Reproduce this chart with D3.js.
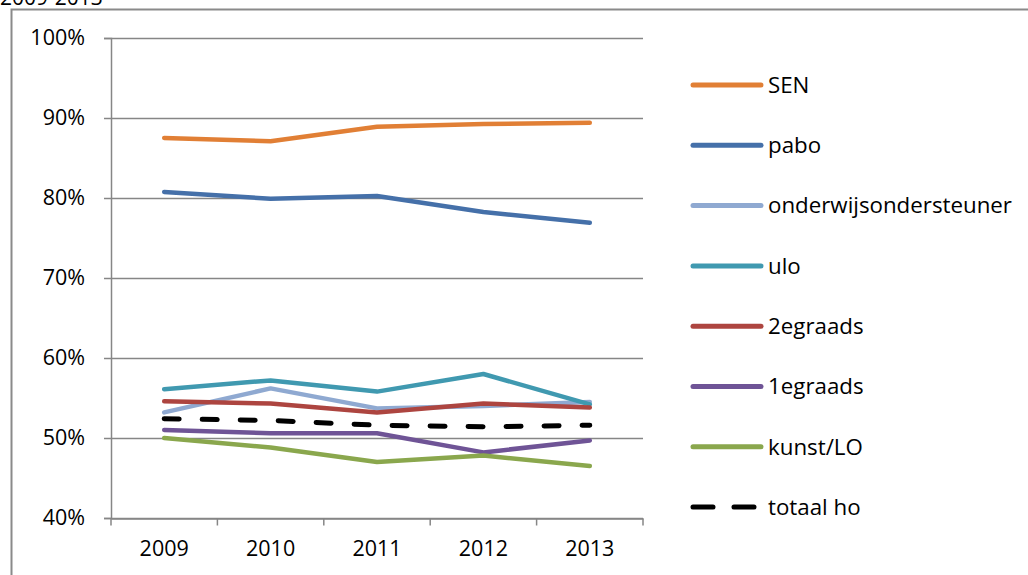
<!DOCTYPE html>
<html>
<head>
<meta charset="utf-8">
<script src="https://cdn.jsdelivr.net/npm/d3@7"></script>
<style>
  body { margin: 0; background: #fff; }
  text { font-family: "Open Sans", Lato, sans-serif; fill: #000; }
</style>
</head>
<body>
<div id="chart"></div>
<script>
// Data
const years = ["2009", "2010", "2011", "2012", "2013"];
const seriesNames = ["SEN", "pabo", "onderwijsondersteuner", "ulo", "2egraads", "1egraads", "kunst/LO", "totaal ho"];
const sen = [87.5, 87.1, 88.9, 89.25, 89.4];
const pabo = [80.75, 79.9, 80.25, 78.25, 76.9];
const onderwijsondersteuner = [53.2, 56.2, 53.7, 54.0, 54.5];
const ulo = [56.1, 57.2, 55.8, 58.0, 54.2];
const tweedegraads = [54.6, 54.3, 53.2, 54.3, 53.8];
const eerstegraads = [51.0, 50.6, 50.6, 48.2, 49.7];
const kunstLO = [50.0, 48.8, 47.0, 47.8, 46.5];
const totaalHo = [52.4, 52.2, 51.6, 51.4, 51.6];
const yTicks = [40, 50, 60, 70, 80, 90, 100];

const seriesValues = [sen, pabo, onderwijsondersteuner, ulo, tweedegraads, eerstegraads, kunstLO, totaalHo];
const colors = ["#E17F35", "#4570A9", "#8FA9D1", "#4099B0", "#AD4540", "#6F5496", "#8AA74D", "#000000"];

const width = 1028, height = 575;
const margin = [38, 385, 57, 111]; // top, right, bottom, left

const svg = d3.select("#chart").append("svg")
  .attr("width", width)
  .attr("height", height);

// outer frame
svg.append("path")
  .attr("d", `M11.5,${height} V9.5 H${width}`)
  .attr("fill", "none")
  .attr("stroke", "#8a8a8a")
  .attr("stroke-width", 2);

// title, cut off by the top edge as in the original
svg.append("text")
  .attr("x", 0).attr("y", 5)
  .style("font-size", "21px")
  .text("2009-2013");

const x = d3.scaleBand()
  .domain(years)
  .range([margin[3], width - margin[1]]);

const y = d3.scaleLinear()
  .domain([40, 100])
  .range([height - margin[2], margin[0]]);

// gridlines
svg.append("g")
  .selectAll("line")
  .data(yTicks)
  .join("line")
  .attr("x1", margin[3] - 7)
  .attr("x2", width - margin[1])
  .attr("y1", d => Math.round(y(d)) + 0.5)
  .attr("y2", d => Math.round(y(d)) + 0.5)
  .attr("stroke", "#868686")
  .attr("stroke-width", 1.5);

// y axis
const yAxis = svg.append("g")
  .attr("transform", `translate(${margin[3]},0)`)
  .call(d3.axisLeft(y).tickValues(yTicks).tickFormat(d => d + "%").tickSize(7).tickPadding(19));
yAxis.select(".domain").attr("stroke", "#868686").attr("stroke-width", 1.5);
yAxis.selectAll(".tick line").remove();
yAxis.selectAll(".tick text").style("font-size", "21.5px").style("font-family", "'Open Sans', sans-serif");

// x axis
const xAxis = svg.append("g")
  .attr("transform", `translate(0,${Math.round(y(40)) + 0.5})`)
  .call(d3.axisBottom(x).tickSize(0).tickPadding(22));
xAxis.select(".domain").attr("stroke", "#868686").attr("stroke-width", 1.5);
xAxis.selectAll(".tick text").style("font-size", "21.5px").style("font-family", "'Open Sans', sans-serif");
// category boundary ticks
xAxis.append("g")
  .selectAll("line")
  .data(years.concat(["end"]))
  .join("line")
  .attr("x1", (d, i) => margin[3] + i * x.step())
  .attr("x2", (d, i) => margin[3] + i * x.step())
  .attr("y1", 0).attr("y2", 7)
  .attr("stroke", "#868686")
  .attr("stroke-width", 1.5);

// lines
const line = d3.line()
  .x((d, i) => x(years[i]) + x.bandwidth() / 2)
  .y(d => y(d));

seriesValues.forEach((vals, i) => {
  const dashed = seriesNames[i] === "totaal ho";
  svg.append("path")
    .datum(vals)
    .attr("fill", "none")
    .attr("stroke", colors[i])
    .attr("stroke-width", dashed ? 5 : 4.5)
    .attr("stroke-linecap", "round")
    .attr("stroke-linejoin", "round")
    .attr("stroke-dasharray", dashed ? "15,23" : null)
    .attr("d", line);
});

// legend
const legend = svg.append("g")
  .attr("transform", "translate(691,85)")
  .selectAll("g")
  .data(seriesNames)
  .join("g")
  .attr("transform", (d, i) => `translate(0,${i * 60.3})`);

legend.append("line")
  .attr("x1", 2).attr("x2", 70)
  .attr("stroke", (d, i) => colors[i])
  .attr("stroke-width", 5)
  .attr("stroke-linecap", "round")
  .attr("stroke-dasharray", d => d === "totaal ho" ? "20,21" : null);

legend.append("text")
  .attr("x", 77)
  .attr("dy", "0.35em")
  .style("font-size", "22.3px")
  .text(d => d);
</script>
</body>
</html>
